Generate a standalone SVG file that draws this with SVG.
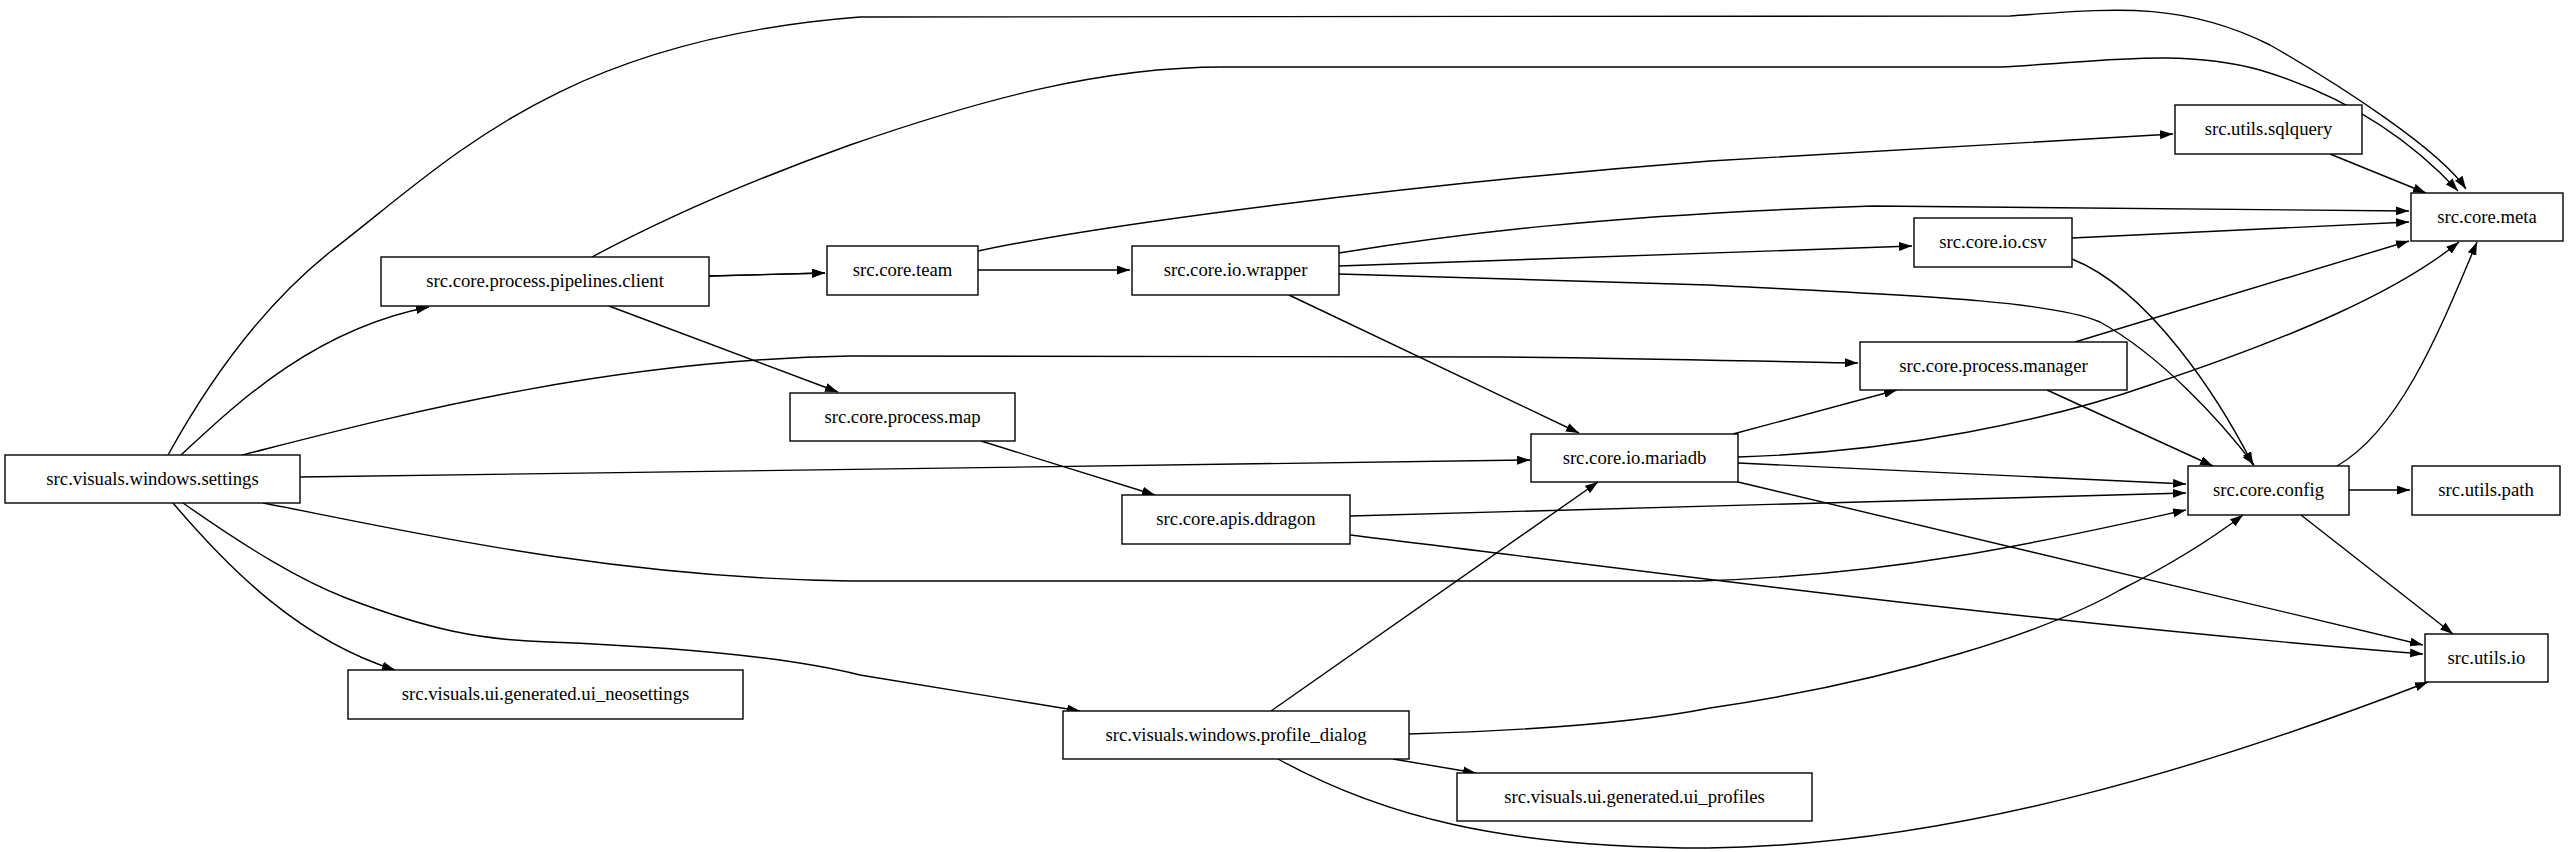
<svg xmlns="http://www.w3.org/2000/svg" width="2568" height="852" viewBox="0 0 2568 852">
<style>
.n rect{fill:#fff;stroke:#000;stroke-width:1.4}
.n text{font-family:"Liberation Serif","Times New Roman",serif;font-size:18.7px;text-anchor:middle;fill:#000}
#edges path{fill:none;stroke:#000;stroke-width:1.4;marker-end:url(#a)}
</style>
<defs><marker id="a" markerUnits="userSpaceOnUse" markerWidth="14" markerHeight="10" refX="13" refY="4.5" orient="auto"><path d="M0,0L13,4.5L0,9z" fill="#000"/></marker></defs>
<rect width="2568" height="852" fill="#fff"/>
<g id="edges">
<path d="M168,455 C215,370 270,300 330,252 C450,160 560,40 860,17 L2010,16 C2110,9 2180,0 2270,45 C2340,85 2440,150 2466,189"/>
<path d="M592,257 C680,210 780,170 850,145 C980,100 1100,67 1223,67 L2000,67 C2100,62 2180,48 2260,70 C2360,100 2420,150 2458,191"/>
<path d="M709,276 L825,273"/>
<path d="M609,306 L838,392"/>
<path d="M181,455 C230,410 310,330 429,307"/>
<path d="M242,455 C380,420 600,360 850,356 L1500,357 C1650,358 1780,362 1858,363"/>
<path d="M300,477 L1530,460"/>
<path d="M263,503 C380,525 600,578 850,581 L1700,581 C1900,575 2050,540 2186,510"/>
<path d="M173,503 C230,570 300,640 395,670"/>
<path d="M183,503 C250,550 300,580 346,598 C430,630 480,640 549,642 C700,648 800,660 860,675 L1080,711"/>
<path d="M978,251 C1100,225 1400,185 1710,161 L2173,134"/>
<path d="M709,276 L825,273"/>
<path d="M978,270 L1130,270"/>
<path d="M1339,253 C1450,235 1600,215 1873,206 L2409,211"/>
<path d="M1339,266 L1912,246"/>
<path d="M1339,274 L1708,285 C1900,295 2050,300 2100,322 C2160,355 2220,420 2254,465"/>
<path d="M1289,295 L1579,433"/>
<path d="M981,441 L1155,495"/>
<path d="M1350,516 L2186,493"/>
<path d="M1350,535 C1600,565 2000,620 2423,654"/>
<path d="M1733,434 L1897,390"/>
<path d="M1738,457 C1900,452 2050,420 2150,385 C2300,335 2400,290 2459,242"/>
<path d="M1738,463 L2186,484"/>
<path d="M1738,482 L2423,645"/>
<path d="M2072,238 L2409,222"/>
<path d="M2072,259 C2150,290 2220,400 2253,465"/>
<path d="M2075,342 L2409,241"/>
<path d="M2047,390 L2213,466"/>
<path d="M2330,154 L2426,193"/>
<path d="M2337,466 C2400,430 2440,330 2477,242"/>
<path d="M2349,490 L2410,490"/>
<path d="M2301,515 L2453,634"/>
<path d="M1271,711 L1598,482"/>
<path d="M1409,734 C1550,730 1650,720 1710,708 C1900,680 2050,630 2120,590 C2170,565 2210,540 2243,515"/>
<path d="M1393,759 L1476,773"/>
<path d="M1278,759 C1380,815 1500,848 1708,848 C1950,845 2200,770 2428,682"/>
</g>
<g id="settings" class="n"><rect x="5" y="455" width="295" height="48"/><text x="152.5" y="485">src.visuals.windows.settings</text></g>
<g id="pipelines" class="n"><rect x="381" y="257" width="328" height="49"/><text x="545" y="287">src.core.process.pipelines.client</text></g>
<g id="neosettings" class="n"><rect x="348" y="670" width="395" height="49"/><text x="545.5" y="700">src.visuals.ui.generated.ui_neosettings</text></g>
<g id="team" class="n"><rect x="827" y="246" width="151" height="49"/><text x="902.5" y="276">src.core.team</text></g>
<g id="map" class="n"><rect x="790" y="393" width="225" height="48"/><text x="902.5" y="423">src.core.process.map</text></g>
<g id="wrapper" class="n"><rect x="1132" y="246" width="207" height="49"/><text x="1235.5" y="276">src.core.io.wrapper</text></g>
<g id="mariadb" class="n"><rect x="1531" y="434" width="207" height="48"/><text x="1634.5" y="464">src.core.io.mariadb</text></g>
<g id="ddragon" class="n"><rect x="1122" y="495" width="228" height="49"/><text x="1236" y="525">src.core.apis.ddragon</text></g>
<g id="profile_dialog" class="n"><rect x="1063" y="711" width="346" height="48"/><text x="1236" y="741">src.visuals.windows.profile_dialog</text></g>
<g id="ui_profiles" class="n"><rect x="1457" y="773" width="355" height="48"/><text x="1634.5" y="803">src.visuals.ui.generated.ui_profiles</text></g>
<g id="sqlquery" class="n"><rect x="2175" y="105" width="187" height="49"/><text x="2268.5" y="135">src.utils.sqlquery</text></g>
<g id="meta" class="n"><rect x="2411" y="193" width="152" height="48"/><text x="2487" y="223">src.core.meta</text></g>
<g id="csv" class="n"><rect x="1914" y="218" width="158" height="49"/><text x="1993" y="248">src.core.io.csv</text></g>
<g id="manager" class="n"><rect x="1860" y="342" width="267" height="48"/><text x="1993.5" y="372">src.core.process.manager</text></g>
<g id="config" class="n"><rect x="2188" y="466" width="161" height="49"/><text x="2268.5" y="496">src.core.config</text></g>
<g id="path" class="n"><rect x="2412" y="466" width="148" height="49"/><text x="2486" y="496">src.utils.path</text></g>
<g id="utils_io" class="n"><rect x="2425" y="634" width="123" height="48"/><text x="2486.5" y="664">src.utils.io</text></g>
</svg>
